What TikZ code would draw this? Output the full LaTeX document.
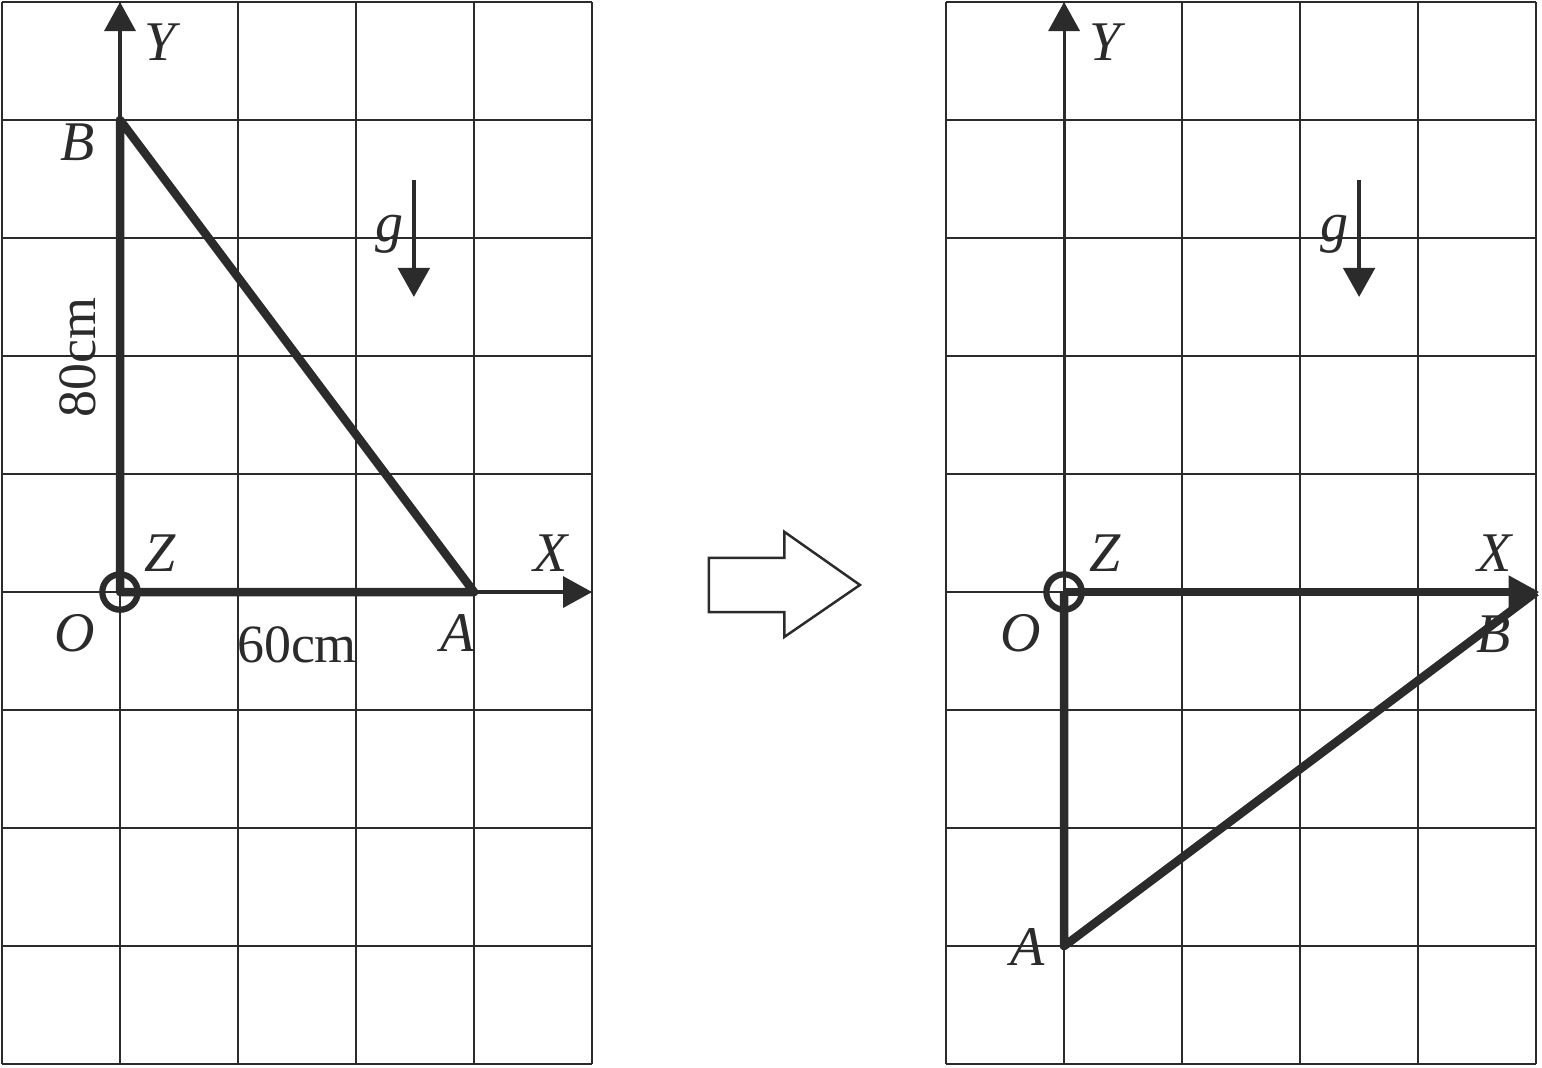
\documentclass[tikz,border=0pt]{standalone}
\usepackage{fontspec}
\setmainfont{Liberation Serif}
\usepackage{tikz}
\usetikzlibrary{arrows.meta}
\definecolor{ink}{HTML}{2B2B2B}
\tikzset{
  gridline/.style={ink, line width=0.5pt},
  rod/.style={ink, line width=2.05pt, line join=round},
  axis/.style={ink, line width=0.75pt, -{Triangle[width=7.5pt,length=7pt]}},
  pivot/.style={circle, draw=ink, line width=1.5pt, minimum size=0.3cm, inner sep=0pt},
  lbl/.style={font=\fontsize{13.5}{15}\selectfont\itshape, text=ink, inner sep=0pt},
  num/.style={font=\fontsize{13}{15}\selectfont, text=ink, inner sep=0pt},
}

\begin{document}
\begin{tikzpicture}
  \useasboundingbox (-0.017,-0.025) rectangle (13.05,9.017);
  % left: before
  \draw[gridline] (0,0) grid (5,9);
  \coordinate (O) at (1,4);
  \coordinate (A) at (4,4);
  \coordinate (B) at (1,8);
  \coordinate (Ytop) at (1,9);
  \coordinate (Xend) at (5,4);
  \draw[axis] (O) -- (Ytop);
  \draw[axis] (O) -- (Xend);
  \draw[rod] (O) -- (B) -- (A) -- cycle;
  \node[pivot] (pin) at (O) {};
  \node[lbl] (labY) at (1.34,8.66) {Y};
  \node[lbl] (labB) at (0.64,7.81) {B};
  \node[lbl] (labZ) at (1.34,4.33) {Z};
  \node[lbl] (labX) at (4.65,4.33) {X};
  \node[lbl] (labO) at (0.62,3.65) {O};
  \node[lbl] (labA) at (3.86,3.65) {A};
  \node[num] (len60) at (2.5,3.55) {60cm};
  \node[num, rotate=90] (len80) at (0.64,5.99) {80cm};
  \coordinate (gtop) at (3.49,7.49);
  \coordinate (gbot) at (3.49,6.50);
  \draw[axis, line width=1.1pt] (gtop) -- (gbot);
  \node[lbl] (labg) at (3.28,7.03) {g};

  % hollow arrow
  \draw[ink, line width=0.6pt] (5.99,4.29) -- (6.63,4.29) -- (6.63,4.51) -- (7.27,4.06)
    -- (6.63,3.62) -- (6.63,3.83) -- (5.99,3.83) -- cycle;

  % right: after
  \draw[gridline] (8,0) grid (13,9);
  \coordinate (O2) at (9,4);
  \coordinate (A2) at (9,1);
  \coordinate (B2) at (13,4);
  \coordinate (Ytop2) at (9,9);
  \coordinate (Xend2) at (13.03,4);
  \draw[axis] (O2) -- (Ytop2);
  \draw[rod, -{Triangle[width=7.5pt,length=7.5pt]}] (O2) -- (Xend2);
  \draw[rod] (O2) -- (A2) -- (B2);
  \node[pivot] (pin2) at (O2) {};
  \node[lbl] (labY2) at (9.35,8.66) {Y};
  \node[lbl] (labZ2) at (9.35,4.33) {Z};
  \node[lbl] (labX2) at (12.65,4.33) {X};
  \node[lbl] (labO2) at (8.63,3.65) {O};
  \node[lbl] (labB2) at (12.64,3.64) {B};
  \node[lbl] (labA2) at (8.69,0.99) {A};
  \coordinate (gtop2) at (11.5,7.49);
  \coordinate (gbot2) at (11.5,6.50);
  \draw[axis, line width=1.1pt] (gtop2) -- (gbot2);
  \node[lbl] (labg2) at (11.29,7.03) {g};
\end{tikzpicture}
\end{document}
